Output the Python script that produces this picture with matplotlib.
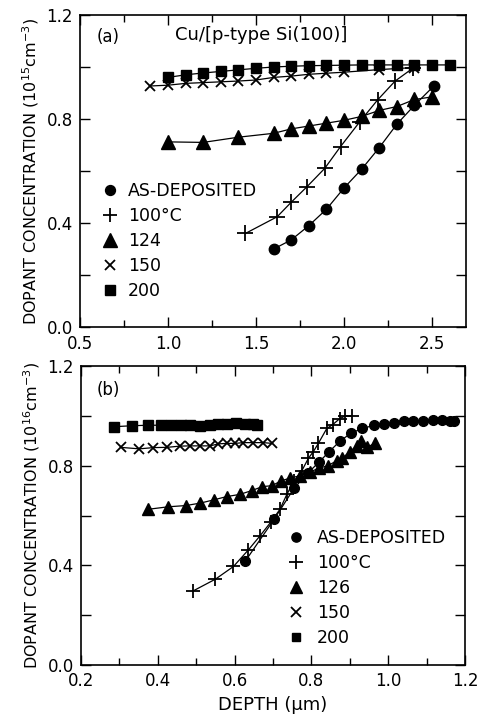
import matplotlib
matplotlib.use("Agg")
import matplotlib.pyplot as plt
from matplotlib.lines import Line2D
from matplotlib.ticker import MultipleLocator

plt.rcParams['font.family'] = ['DejaVu Sans']
plt.rcParams['mathtext.fontset'] = 'dejavusans'

# ---- panel (a): Cu/[p-type Si(100)], 10^15 cm^-3 ----
a_dep_x = [1.6, 1.7, 1.8, 1.9, 2.0, 2.1, 2.2, 2.3, 2.4, 2.51]
a_dep_y = [0.30, 0.335, 0.39, 0.453, 0.535, 0.607, 0.69, 0.78, 0.853, 0.927]
a_100_x = [1.44, 1.62, 1.70, 1.79, 1.89, 1.98, 2.09, 2.19, 2.29, 2.39]
a_100_y = [0.36, 0.424, 0.48, 0.54, 0.61, 0.694, 0.79, 0.873, 0.946, 0.995]
a_124_x = [1.0, 1.2, 1.4, 1.6, 1.7, 1.8, 1.9, 2.0, 2.1, 2.2, 2.3, 2.4, 2.5]
a_124_y = [0.712, 0.71, 0.73, 0.745, 0.762, 0.773, 0.784, 0.795, 0.81, 0.833,
           0.848, 0.875, 0.885]
a_150_x = [0.9, 1.0, 1.1, 1.2, 1.3, 1.4, 1.5, 1.6, 1.7, 1.8, 1.9, 2.0, 2.2, 2.4]
a_150_y = [0.927, 0.93, 0.937, 0.94, 0.943, 0.946, 0.95, 0.96, 0.965, 0.972,
           0.976, 0.98, 0.99, 0.998]
a_200_x = [1.0, 1.1, 1.2, 1.3, 1.4, 1.5, 1.6, 1.7, 1.8, 1.9, 2.0, 2.1, 2.2, 2.3,
           2.4, 2.5, 2.6]
a_200_y = [0.96, 0.97, 0.977, 0.983, 0.989, 0.995, 1.0, 1.003, 1.005, 1.006,
           1.007, 1.008, 1.008, 1.008, 1.008, 1.008, 1.008]
a_labels = ['AS-DEPOSITED', '100\u00b0C', '124', '150', '200']

# ---- panel (b): 10^16 cm^-3 ----
b_dep_x = [0.628, 0.703, 0.755, 0.79, 0.82, 0.845, 0.875, 0.902, 0.932, 0.962,
           0.99, 1.015, 1.04, 1.065, 1.09, 1.117, 1.14, 1.16, 1.17]
b_dep_y = [0.417, 0.585, 0.71, 0.77, 0.815, 0.855, 0.9, 0.93, 0.95, 0.962,
           0.967, 0.972, 0.978, 0.98, 0.98, 0.985, 0.985, 0.982, 0.98]
b_100_x = [0.491, 0.55, 0.597, 0.636, 0.666, 0.695, 0.718, 0.736, 0.755, 0.775,
           0.792, 0.805, 0.818, 0.84, 0.855, 0.874, 0.888, 0.905]
b_100_y = [0.296, 0.344, 0.395, 0.462, 0.518, 0.575, 0.625, 0.685, 0.74, 0.78,
           0.83, 0.857, 0.89, 0.95, 0.965, 0.99, 1.0, 1.0]
b_126_x = [0.375, 0.427, 0.473, 0.511, 0.546, 0.579, 0.614, 0.644, 0.672, 0.697,
           0.722, 0.744, 0.77, 0.795, 0.82, 0.842, 0.866, 0.88, 0.9, 0.918,
           0.928, 0.945, 0.965]
b_126_y = [0.625, 0.635, 0.64, 0.65, 0.663, 0.676, 0.685, 0.7, 0.716, 0.72,
           0.74, 0.75, 0.76, 0.775, 0.79, 0.80, 0.82, 0.83, 0.857, 0.88,
           0.90, 0.875, 0.89]
b_150_x = [0.303, 0.352, 0.388, 0.423, 0.458, 0.484, 0.51, 0.536, 0.558, 0.579,
           0.601, 0.623, 0.649, 0.675, 0.697]
b_150_y = [0.874, 0.868, 0.873, 0.874, 0.879, 0.88, 0.88, 0.88, 0.888, 0.89,
           0.89, 0.893, 0.893, 0.893, 0.89]
b_200_x = [0.285, 0.334, 0.375, 0.408, 0.435, 0.46, 0.485, 0.51, 0.535, 0.557,
           0.58, 0.603, 0.627, 0.648, 0.658]
b_200_y = [0.957, 0.961, 0.963, 0.963, 0.963, 0.963, 0.963, 0.96, 0.965, 0.967,
           0.967, 0.97, 0.968, 0.966, 0.963]
b_labels = ['AS-DEPOSITED', '100\u00b0C', '126', '150', '200']

markers = ['o', '+', '^', 'x', 's']
msizes_a = [7.5, 11, 10, 7.5, 7]
msizes_b = [7, 10, 9, 7, 6.5]
mews = [1, 1.3, 1, 1.3, 1]

fig = plt.figure(figsize=(4.79, 7.14), dpi=100)
ax_a = fig.add_axes([0.167, 0.542, 0.806, 0.437])
ax_b = fig.add_axes([0.169, 0.069, 0.802, 0.418])


def draw_series(ax, xs, ys, sizes):
    for x, y, m, ms, mew in zip(xs, ys, markers, sizes, mews):
        ax.plot(x, y, '-', color='black', lw=0.9, marker=m, ms=ms,
                mew=mew, mfc='black', mec='black')


def style_axes(ax, xmaj, xmin):
    for s in ax.spines.values():
        s.set_linewidth(1.2)
    ax.set_ylim(0, 1.2)
    ax.yaxis.set_major_locator(MultipleLocator(0.4))
    ax.yaxis.set_minor_locator(MultipleLocator(0.2))
    ax.xaxis.set_major_locator(MultipleLocator(xmaj))
    ax.xaxis.set_minor_locator(MultipleLocator(xmin))
    ax.tick_params(which='both', direction='in', top=True, right=True,
                   labelsize=12, width=1)
    ax.tick_params(which='major', length=7)
    ax.tick_params(axis='x', which='major', pad=5.5)
    ax.tick_params(axis='y', which='major', pad=5)
    ax.tick_params(axis='y', which='minor', length=7)
    ax.tick_params(axis='x', which='minor', length=5)
    ax.yaxis.set_major_formatter(plt.FormatStrFormatter('%.1f'))
    ax.xaxis.set_major_formatter(plt.FormatStrFormatter('%.1f'))


def add_legend(ax, labels, sizes, anchor, textpad):
    handles = [Line2D([], [], ls='none', marker=m, ms=ms * 0.95, mew=mew,
                      color='black') for m, ms, mew in zip(markers, sizes, mews)]
    ax.legend(handles, labels, loc='upper left', bbox_to_anchor=anchor,
              frameon=False, fontsize=12.5, handlelength=1.0,
              handletextpad=textpad, labelspacing=0.4, borderpad=0,
              borderaxespad=0)


# panel (a)
draw_series(ax_a, [a_dep_x, a_100_x, a_124_x, a_150_x, a_200_x],
            [a_dep_y, a_100_y, a_124_y, a_150_y, a_200_y], msizes_a)
style_axes(ax_a, 0.5, 0.25)
ax_a.set_xlim(0.5, 2.693)
ax_a.set_ylabel('DOPANT CONCENTRATION (10$^{15}$cm$^{-3}$)', fontsize=11.5,
                labelpad=4)
ax_a.text(0.044, 0.93, '(a)', transform=ax_a.transAxes, fontsize=12,
          va='center')
ax_a.text(0.246, 0.935, 'Cu/[p-type Si(100)]', transform=ax_a.transAxes,
          fontsize=13, va='center')
add_legend(ax_a, a_labels, msizes_a, (0.055, 0.465), 0.55)

# panel (b)
draw_series(ax_b, [b_dep_x, b_100_x, b_126_x, b_150_x, b_200_x],
            [b_dep_y, b_100_y, b_126_y, b_150_y, b_200_y], msizes_b)
style_axes(ax_b, 0.2, 0.1)
ax_b.set_xlim(0.2, 1.2)
ax_b.set_ylabel('DOPANT CONCENTRATION (10$^{16}$cm$^{-3}$)', fontsize=11.5,
                labelpad=4)
ax_b.set_xlabel('DEPTH (\u03bcm)', fontsize=13, labelpad=4)
ax_b.text(0.042, 0.92, '(b)', transform=ax_b.transAxes, fontsize=12,
          va='center')
add_legend(ax_b, b_labels, msizes_b, (0.537, 0.455), 0.7)

fig.savefig('out.png', dpi=100)
